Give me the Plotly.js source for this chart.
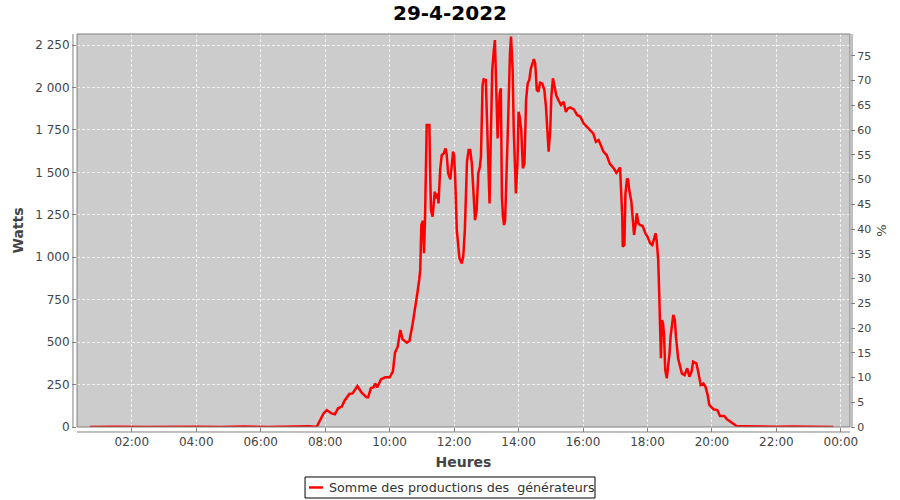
<!DOCTYPE html>
<html>
<head>
<meta charset="utf-8">
<script src="https://cdn.plot.ly/plotly-3.0.1.min.js"></script>
<style>html,body{margin:0;padding:0;background:#fff;}#chart{width:900px;height:500px;}</style>
</head>
<body>
<div id="chart"></div>
<script>
const chartTitle = "29-4-2022";
const dayStr = "2022-04-29";
const seriesName = "Somme des productions des \u00a0générateurs";
const times = [
"00:42","01:30","02:30","03:20","04:00","04:45","05:30","06:15","06:50","07:10","07:30","07:44",
"07:52","07:57","08:03","08:12","08:18","08:24","08:31","08:36","08:45","08:51","09:00","09:08",
"09:17","09:20","09:25","09:30","09:33","09:37","09:44","09:52","10:00","10:06","10:10","10:15",
"10:20","10:24","10:32","10:37","10:43","10:49","10:52","10:55","10:57","10:59","11:02","11:04",
"11:06","11:09","11:14","11:15","11:17","11:20","11:22","11:24","11:27","11:29","11:31","11:34",
"11:37","11:41","11:44","11:46","11:49","11:53","11:56","11:58","12:00","12:02","12:05","12:07",
"12:10","12:14","12:17","12:20","12:24","12:27","12:30","12:33","12:36","12:39","12:42","12:45",
"12:48","12:50","12:53","12:55","12:59","13:01","13:04","13:06","13:08","13:11","13:14","13:16",
"13:18","13:21","13:23","13:25","13:27","13:29","13:31","13:33","13:35","13:38","13:41","13:44",
"13:46","13:49","13:51","13:54","13:55","13:58","14:00","14:02","14:05","14:08","14:11","14:14",
"14:17","14:20","14:23","14:28","14:29","14:31","14:34","14:37","14:40","14:44","14:48","14:51",
"14:54","14:56","14:59","15:01","15:04","15:06","15:10","15:14","15:19","15:24","15:28","15:32",
"15:36","15:43","15:49","15:55","16:01","16:07","16:14","16:19","16:24","16:29","16:33","16:38",
"16:44","16:50","16:57","17:02","17:06","17:09","17:10","17:13","17:14","17:17","17:19","17:22",
"17:24","17:26","17:30","17:33","17:35","17:38","17:40","17:43","17:46","17:51","17:56","18:00",
"18:05","18:09","18:12","18:15","18:17","18:20","18:22","18:24","18:25","18:27","18:29","18:31",
"18:33","18:36","18:38","18:41","18:43","18:46","18:48","18:51","18:53","18:57","19:01","19:04",
"19:09","19:14","19:18","19:22","19:25","19:31","19:35","19:39","19:44","19:48","19:52","19:55",
"20:03","20:10","20:15","20:23","20:28","20:35","20:40","20:46","21:00","21:20","21:40","22:00",
"22:30","23:00","23:15","23:46"
];
const watts = [
0,2,0,3,2,0,3,0,4,6,5,0,
45,80,100,80,75,110,120,155,195,198,241,202,
175,175,228,234,257,234,281,293,293,326,438,473,
571,517,497,508,611,719,797,866,925,1190,1215,1023,
1239,1779,1779,1553,1278,1239,1298,1386,1347,1376,1317,1514,
1602,1612,1641,1612,1494,1459,1553,1622,1602,1474,1160,1082,
994,964,1003,1160,1563,1631,1631,1553,1396,1219,1278,1494,
1533,1592,2014,2048,2044,1848,1455,1317,1651,2103,2221,2279,
2044,1700,1848,1965,1995,1356,1239,1190,1219,1494,1848,2201,
2300,2103,1749,1474,1376,1553,1857,1828,1749,1524,1553,1926,
2024,2044,2113,2162,2162,2142,1985,1975,2028,2024,1985,1887,
1690,1622,1749,1945,2054,2024,1955,1926,1897,1916,1857,1877,
1883,1871,1838,1828,1789,1769,1749,1730,1680,1690,1661,1622,
1602,1550,1524,1498,1514,1529,1455,1239,1062,1072,1376,1465,
1455,1396,1327,1180,1131,1200,1259,1200,1190,1184,1141,1121,
1082,1072,1111,1141,1101,984,767,532,405,630,611,532,
336,287,336,434,532,611,660,630,532,405,355,316,
306,346,296,326,385,375,316,247,257,237,188,130,
104,100,65,65,45,31,22,6,5,3,4,2,
3,2,4,0
];
const xTickVals = ["02:00","04:00","06:00","08:00","10:00","12:00","14:00","16:00","18:00","20:00","22:00"];
const xRange = ["2022-04-29 00:18","2022-04-30 00:17"];
const wattsTicks = [0,250,500,750,1000,1250,1500,1750,2000,2250];
const pctTicks = [0,5,10,15,20,25,30,35,40,45,50,55,60,65,70,75];

const xs = times.map(t => dayStr + " " + t);
const tickvals = xTickVals.map(t => dayStr + " " + t).concat(["2022-04-30 00:00"]);
const ticktext = xTickVals.concat(["00:00"]);

const fontFam = "DejaVu Sans, sans-serif";
const gridDash = "3px,2px";
const lineColor = "#ff0000";
const traces = [
  {x: xs, y: watts, type: "scatter", mode: "lines", name: seriesName,
   line: {color: lineColor, width: 2.5}, yaxis: "y", showlegend: false},
  {x: [xs[0]], y: [0], type: "scatter", mode: "lines", yaxis: "y2",
   showlegend: false, hoverinfo: "skip", line: {color: "rgba(0,0,0,0)"}}
];
// legend box (drawn manually, in paper coordinates)
const legY = -0.1539;
const layout = {
  width: 900, height: 500,
  margin: {l: 77, r: 50, t: 34, b: 73, autoexpand: false},
  paper_bgcolor: "#ffffff",
  plot_bgcolor: "#cccccc",
  separators: ", ",
  font: {family: fontFam, size: 12, color: "#444444"},
  title: {text: "<b>" + chartTitle + "</b>", x: 0.5, xanchor: "center", y: 0.975, yanchor: "middle",
          font: {family: fontFam, size: 20, color: "#000000"}},
  xaxis: {type: "date", range: xRange, tickvals: tickvals, ticktext: ticktext,
          showgrid: true, gridcolor: "#f2f2f2", griddash: gridDash, gridwidth: 1,
          ticks: "outside", ticklen: 4, tickcolor: "#808080", showline: false, zeroline: false,
          tickfont: {family: fontFam, size: 12, color: "#444444"},
          title: {text: "Heures", standoff: 8, font: {family: fontFam, size: 14, color: "#444444", weight: "bold"}}},
  yaxis: {range: [0, 2315], tickvals: wattsTicks, tickformat: ",d",
          showgrid: true, gridcolor: "#f2f2f2", griddash: gridDash, gridwidth: 1,
          ticks: "outside", ticklen: 4, tickcolor: "#808080", showline: false, zeroline: false,
          tickfont: {family: fontFam, size: 12, color: "#444444"},
          title: {text: "Watts", standoff: 8, font: {family: fontFam, size: 14, color: "#444444", weight: "bold"}}},
  yaxis2: {overlaying: "y", side: "right", range: [0, 79.4], tickvals: pctTicks,
           showgrid: false, zeroline: false, showline: false,
           ticks: "outside", ticklen: 4, tickcolor: "#808080",
           tickfont: {family: fontFam, size: 11, color: "#444444"},
           title: {text: "%", standoff: 6, font: {family: fontFam, size: 13, color: "#444444"}}},
  showlegend: false,
  annotations: [
    {xref: "paper", yref: "paper", x: 0.3234, y: legY, xanchor: "left", yanchor: "middle",
     text: seriesName, showarrow: false, font: {family: fontFam, size: 12.7, color: "#333333"}}
  ],
  shapes: [
    {type: "rect", xref: "paper", yref: "paper", x0: 0, x1: 1, y0: 0, y1: 1,
     line: {color: "#808080", width: 1}, fillcolor: "rgba(0,0,0,0)"},
    {type: "line", xref: "paper", yref: "paper", x0: -0.0052, x1: -0.0052, y0: 0, y1: 1,
     line: {color: "#808080", width: 1}},
    {type: "line", xref: "paper", yref: "paper", x0: 1.0026, x1: 1.0026, y0: 0, y1: 1,
     line: {color: "#808080", width: 1}},
    {type: "line", xref: "paper", yref: "paper", x0: 0, x1: 1, y0: -0.0127, y1: -0.0127,
     line: {color: "#808080", width: 1}},
    {type: "rect", xref: "paper", yref: "paper", x0: 0.2950, x1: 0.6701, y0: -0.1807, y1: -0.1272,
     line: {color: "#000000", width: 1}, fillcolor: "#ffffff"},
    {type: "line", xref: "paper", yref: "paper", x0: 0.3001, x1: 0.3182, y0: legY, y1: legY,
     line: {color: lineColor, width: 2.5}}
  ]
};
Plotly.newPlot("chart", traces, layout, {displayModeBar: false, staticPlot: true});
</script>
</body>
</html>
